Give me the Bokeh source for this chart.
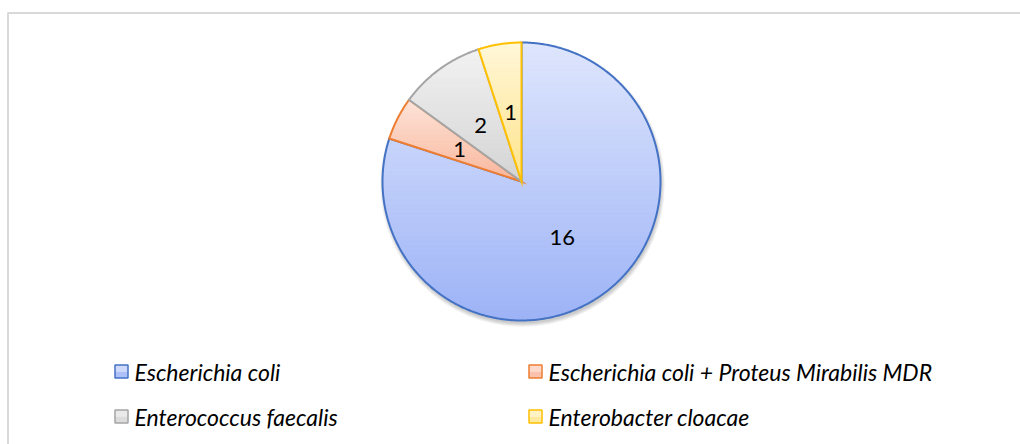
import numpy as np
from bokeh.plotting import figure
from bokeh.models import Range1d
from bokeh.embed import file_html
from bokeh.resources import INLINE
from bokeh.core.properties import value

# Isolated organisms and their counts
organisms = [
    "Escherichia coli",
    "Escherichia coli + Proteus Mirabilis MDR",
    "Enterococcus faecalis",
    "Enterobacter cloacae",
]
counts = [16, 1, 2, 1]

# Slice styling: outline colour and vertical gradient (top -> bottom)
edge_colors = ["#4472c4", "#ed7d31", "#a5a5a5", "#ffc000"]
top_colors = ["#dfe6fd", "#fde4d9", "#f2f2f2", "#fff7d9"]
bottom_colors = ["#9db3f6", "#f9b79d", "#d4d4d4", "#ffe48a"]

W, H = 1020, 444
CX, CY, R = 521, 181, 139
FONT = "Lato"

p = figure(width=W, height=H, x_range=Range1d(0, W), y_range=Range1d(H, 0),
           output_backend="svg", toolbar_location=None, min_border=0,
           x_axis_location=None, y_axis_location=None)
p.grid.visible = False
p.outline_line_color = None
p.background_fill_color = "white"
p.border_fill_color = "white"

# chart area border (left and top edges visible)
p.line(x=[7.5, 7.5, W], y=[H, 12.5, 12.5], line_color="#d9d9d9", line_width=2)


def hex_to_rgb(h):
    h = h.lstrip("#")
    return np.array([int(h[i:i + 2], 16) for i in (0, 2, 4)], dtype=float)


def mix(c0, c1, t):
    c = hex_to_rgb(c0) * (1 - t) + hex_to_rgb(c1) * t
    return "#%02x%02x%02x" % tuple(int(round(v)) for v in c)


def cut(a, b, y):
    t = (y - a[1]) / (b[1] - a[1])
    return (a[0] + t * (b[0] - a[0]), y)


def clip(poly, y_lim, keep_below):
    out = []
    for i in range(len(poly)):
        cur, prev = poly[i], poly[i - 1]
        cin = cur[1] >= y_lim if keep_below else cur[1] <= y_lim
        pin = prev[1] >= y_lim if keep_below else prev[1] <= y_lim
        if cin:
            if not pin:
                out.append(cut(prev, cur, y_lim))
            out.append(cur)
        elif pin:
            out.append(cut(prev, cur, y_lim))
    return out


def sector(a0, a1, r):
    th = np.linspace(a0, a1, max(8, int(abs(a1 - a0) * 120)))
    pts = [(CX, CY)]
    pts += [(CX + r * np.cos(t), CY - r * np.sin(t)) for t in th]
    return pts


# soft drop shadow beneath the pie
for i in range(6):
    p.circle(x=[CX + 1], y=[CY + 3], radius=R + 0.7 * i,
             fill_color="black", fill_alpha=0.035, line_color=None)

total = float(sum(counts))
start = np.pi / 2
label_x, label_y = [], []
for n, (cnt, ec, c0, c1) in enumerate(zip(counts, edge_colors, top_colors, bottom_colors)):
    sweep = 2 * np.pi * cnt / total
    end = start - sweep
    poly = sector(start, end, R)
    ys = [pt[1] for pt in poly]
    ymin, ymax = min(ys), max(ys)
    nb = 60
    edges = np.linspace(ymin, ymax, nb + 1)
    bx, by, bc = [], [], []
    for k in range(nb):
        band = clip(poly, edges[k] - 0.4, True)
        band = clip(band, edges[k + 1] + 0.4, False)
        if len(band) < 3:
            continue
        bx.append([q[0] for q in band])
        by.append([q[1] for q in band])
        bc.append(mix(c0, c1, (k + 0.5) / nb))
    p.patches(xs=bx, ys=by, fill_color=bc, line_color=bc, line_width=0.5)
    p.patch(x=[q[0] for q in poly], y=[q[1] for q in poly], fill_color=None,
            line_color=ec, line_width=2, line_join="miter")
    mid = (start + end) / 2
    label_x.append(CX + 0.5 * R * np.cos(mid))
    label_y.append(CY - 0.5 * R * np.sin(mid))
    start = end

p.text(x=label_x, y=label_y, text=[str(c) for c in counts], text_align="center",
       text_baseline="middle", text_font=value(FONT), text_font_size="22px",
       text_color="#000000")

# legend, two columns by two rows
leg_sq_x = [121, 535, 121, 535]
leg_y = [371, 371, 416, 416]
sq = 13
for (x, y, ec, c0, c1) in zip(leg_sq_x, leg_y, edge_colors, top_colors, bottom_colors):
    p.rect(x=[x], y=[y - sq / 4], width=sq, height=sq / 2, fill_color=mix(c0, c1, 0.25), line_color=None)
    p.rect(x=[x], y=[y + sq / 4], width=sq, height=sq / 2, fill_color=mix(c0, c1, 0.75), line_color=None)
    p.rect(x=[x], y=[y], width=sq, height=sq, fill_color=None, line_color=ec, line_width=1.5)

p.text(x=[x + 13 for x in leg_sq_x], y=leg_y, text=organisms, text_align="left",
       text_baseline="middle", text_font=value(FONT), text_font_size="23px",
       text_font_style="italic", text_color="#000000")

open("out.html", "w").write(file_html(p, INLINE))
